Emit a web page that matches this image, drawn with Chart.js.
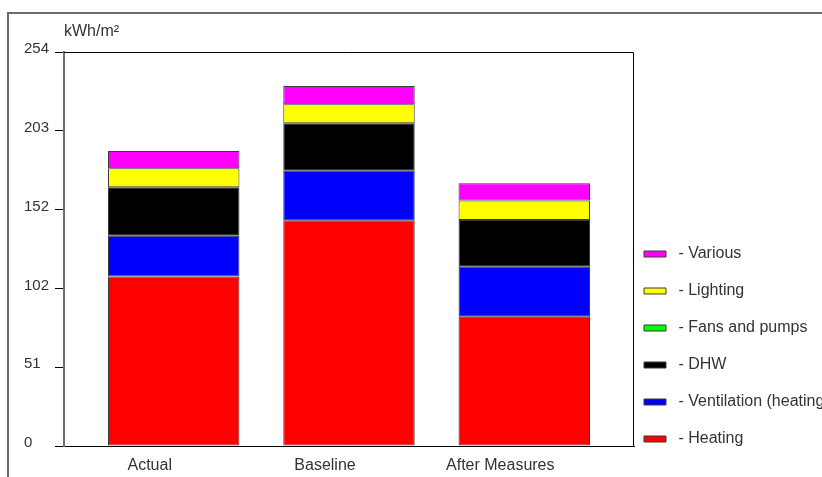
<!DOCTYPE html>
<html>
<head>
<meta charset="utf-8">
<script src="https://cdn.jsdelivr.net/npm/chart.js@4.4.0/dist/chart.umd.min.js"></script>
<style>
  html, body { margin: 0; padding: 0; background: #fff; overflow: hidden; }
  #wrap { position: relative; width: 822px; height: 477px; }
  #frame { position: absolute; left: 7px; top: 12px; width: 830px; height: 480px;
           border-top: 2px solid #6b6b6b; border-left: 2px solid #6b6b6b; }
  canvas { position: absolute; left: 0; top: 0; }
</style>
</head>
<body>
<div id="wrap">
  <div id="frame"></div>
  <canvas id="c"></canvas>
</div>
<script>
// ---- data ----
const categories = ['Actual', 'Baseline', 'After Measures'];
const heating     = [109.2, 145.5, 83.4];
const ventilation = [26.4, 32.0, 32.2];
const dhw         = [31.2, 30.6, 30.1];
const fansPumps   = [0, 0, 0];
const lighting    = [12.2, 12.2, 12.5];
const various     = [11.2, 11.8, 11.2];
const yTickLabels = ['0', '51', '102', '152', '203', '254'];
const yMax = 254;
const unitLabel = 'kWh/m²';

Chart.defaults.font.family = '"Liberation Sans", Arial, sans-serif';
Chart.defaults.font.size = 16;
Chart.defaults.color = '#333';

const toPoints = arr => arr.map((v, i) => ({ x: i, y: v }));
const series = [
  { label: 'Heating', data: heating, color: '#ff0000' },
  { label: 'Ventilation (heating)', data: ventilation, color: '#0000ff' },
  { label: 'DHW', data: dhw, color: '#000000' },
  { label: 'Fans and pumps', data: fansPumps, color: '#00ff00' },
  { label: 'Lighting', data: lighting, color: '#ffff00' },
  { label: 'Various', data: various, color: '#ff00ff' }
];

const frameLines = {
  id: 'frameLines',
  afterLayout(chart) {
    const lg = chart.legend;
    if (lg) { lg.left -= 11; lg.top -= 9; lg.bottom -= 9; }
  },
  beforeDatasetsDraw(chart) {
    const { ctx, chartArea: a } = chart;
    ctx.save();
    ctx.strokeStyle = '#000';
    ctx.lineWidth = 1;
    ctx.beginPath();
    ctx.moveTo(a.left, a.top + 0.5);
    ctx.lineTo(a.right - 0.5, a.top + 0.5);
    ctx.lineTo(a.right - 0.5, a.bottom);
    ctx.stroke();
    ctx.restore();
  }
};

new Chart(document.getElementById('c'), {
  type: 'bar',
  data: {
    datasets: series.map(s => ({
      label: s.label,
      data: toPoints(s.data),
      backgroundColor: s.color,
      borderColor: '#3a3a3a',
      borderWidth: 1,
      borderSkipped: false,
      barPercentage: 0.75,
      categoryPercentage: 1
    }))
  },
  options: {
    responsive: true,
    maintainAspectRatio: false,
    animation: false,
    layout: { padding: { left: 24, right: 0, top: 0, bottom: 0 } },
    scales: {
      x: {
        type: 'linear',
        stacked: true,
        offset: false,
        bounds: 'data',
        min: -0.626,
        max: 2.626,
        afterBuildTicks: scale => { scale.ticks = categories.map((_, i) => ({ value: i })); },
        afterFit: scale => { scale.height = 31; },
        grid: { display: false, drawTicks: false, offset: false },
        border: { display: true, color: '#000', width: 1 },
        ticks: {
          callback: v => categories[v],
          padding: 10.4,
          labelOffset: -24,
          maxRotation: 0,
          autoSkip: false,
          color: '#333',
          font: { size: 16 }
        }
      },
      y: {
        stacked: true,
        min: 0,
        max: yMax,
        afterFit: scale => { scale.width = 40; },
        grid: { drawOnChartArea: false, drawTicks: true, tickLength: 9, color: '#000', lineWidth: 1 },
        border: { display: true, color: '#707070', width: 2 },
        ticks: {
          stepSize: yMax / 5,
          callback: (v, i) => yTickLabels[i],
          crossAlign: 'far',
          padding: 6,
          labelOffset: -3,
          color: '#333',
          font: { size: 15 }
        }
      }
    },
    plugins: {
      tooltip: { enabled: false },
      title: {
        display: true,
        text: unitLabel,
        align: 'start',
        position: 'top',
        fullSize: false,
        color: '#333',
        font: { size: 16, weight: 'normal' },
        padding: { top: 22.4, bottom: 10.4 }
      },
      legend: {
        position: 'right',
        align: 'end',
        reverse: true,
        maxWidth: 188,
        labels: {
          boxWidth: 22,
          boxHeight: 6,
          padding: 21,
          color: '#333',
          font: { size: 16 },
          generateLabels: chart => Chart.defaults.plugins.legend.labels.generateLabels(chart)
            .map(item => Object.assign(item, { text: ' - ' + item.text }))
        }
      }
    }
  },
  plugins: [frameLines]
});
</script>
</body>
</html>
